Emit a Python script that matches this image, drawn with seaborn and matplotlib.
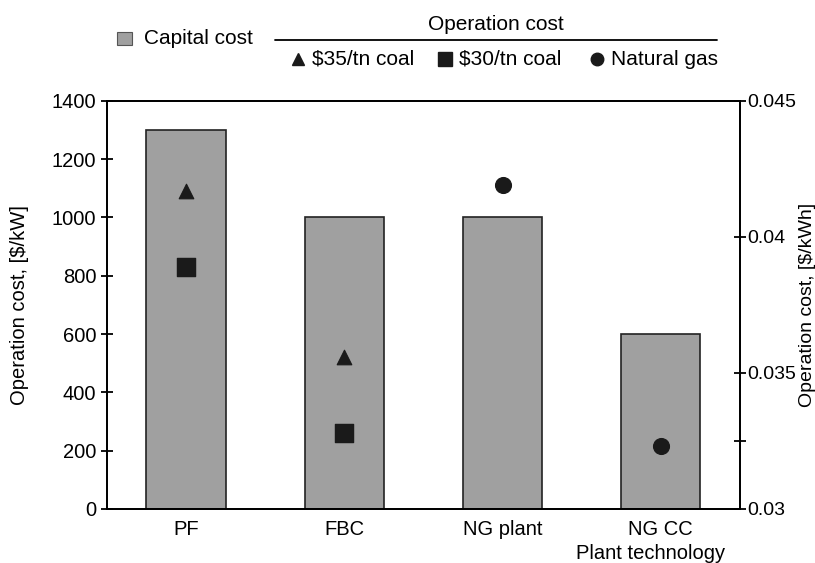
import matplotlib
matplotlib.use("Agg")
import matplotlib.pyplot as plt
from matplotlib.lines import Line2D
from matplotlib.patches import Rectangle
import seaborn as sns
import pandas as pd

# data
technologies = ["PF", "FBC", "NG plant", "NG CC"]
capital_cost = [1300, 1000, 1000, 600]          # left axis, $/kW

op_tech = ["PF", "PF", "FBC", "FBC", "NG plant", "NG CC"]
op_fuel = ["$35/tn coal", "$30/tn coal", "$35/tn coal", "$30/tn coal", "Natural gas", "Natural gas"]
op_cost = [0.0417, 0.0389, 0.0356, 0.0328, 0.0419, 0.0323]  # right axis, $/kWh

fuel_markers = {"$35/tn coal": "^", "$30/tn coal": "s", "Natural gas": "o"}
fuel_sizes = {"$35/tn coal": 110, "$30/tn coal": 170, "Natural gas": 130}

sns.set_theme(style="white")
plt.rcParams["font.family"] = ["Liberation Sans", "DejaVu Sans"]
plt.rcParams.update({"text.color": "black", "axes.labelcolor": "black",
                     "xtick.color": "black", "ytick.color": "black"})
FS = 14.5

bars = pd.DataFrame({"tech": technologies, "capital": capital_cost})
ops = pd.DataFrame({"tech": op_tech, "fuel": op_fuel, "cost": op_cost})
ops["pos"] = [technologies.index(t) for t in ops["tech"]]

fig = plt.figure(figsize=(8.15, 5.63), dpi=100)
ax = fig.add_axes([0.131, 0.096, 0.777, 0.725])

sns.barplot(data=bars, x="tech", y="capital", color="#a0a0a0", saturation=1,
            width=0.5, edgecolor="#222222", linewidth=1.2, ax=ax)
ax.set_xlim(-0.5, 3.5)
ax.set_ylim(0, 1400)
ax.set_yticks(range(0, 1401, 200))
ax.set_ylabel("Operation cost, [$/kW]", fontsize=FS, va="center")
ax.yaxis.set_label_coords(-0.138, 0.5)
ax.set_xlabel("")
ax.set_xticks(range(len(technologies)))
ax.set_xticklabels(technologies, fontsize=FS)
ax.tick_params(axis="x", length=0, pad=8)
ax.set_xticks([0.5, 1.5, 2.5], minor=True)
ax.tick_params(axis="x", which="minor", direction="inout", length=9, width=1.3, color="black")
ax.tick_params(axis="y", direction="inout", length=9, width=1.3, color="black", labelsize=FS, pad=3)

ax2 = ax.twinx()
for fuel in fuel_markers:
    sub = ops[ops["fuel"] == fuel]
    sns.scatterplot(data=sub, x="pos", y="cost", marker=fuel_markers[fuel],
                    s=fuel_sizes[fuel], color="#1a1a1a", edgecolor="#1a1a1a",
                    legend=False, ax=ax2)
ax2.set_ylim(0.03, 0.045)
ax2.set_yticks([0.03, 0.0325, 0.035, 0.04, 0.045])
ax2.set_yticklabels(["0.03", "", "0.035", "0.04", "0.045"])
ax2.tick_params(axis="y", direction="inout", length=9, width=1.3, color="black", labelsize=14, pad=1)
ax2.set_ylabel("Operation cost, [$/kWh]", fontsize=14, rotation=90, va="center")
ax2.yaxis.set_label_coords(1.106, 0.5)
ax2.set_xlabel("")
ax2.set_xlim(-0.5, 3.5)

for a in (ax, ax2):
    for s in a.spines.values():
        s.set_color("black")
        s.set_linewidth(1.3)

fig.text(0.798, 0.0175, "Plant technology", ha="center", va="center", fontsize=FS)

# custom legend on top
fig.add_artist(Rectangle((0.1435, 0.92), 0.0185, 0.024, transform=fig.transFigure,
                         facecolor="#a0a0a0", edgecolor="#555555", lw=0.8))
fig.text(0.177, 0.931, "Capital cost", ha="left", va="center", fontsize=15)
fig.text(0.609, 0.956, "Operation cost", ha="center", va="center", fontsize=15)
fig.add_artist(Line2D([0.337, 0.88], [0.929, 0.929], transform=fig.transFigure,
                      color="black", lw=1.3))
legend_x = {"$35/tn coal": 0.366, "$30/tn coal": 0.546, "Natural gas": 0.733}
for fuel, xm in legend_x.items():
    fig.add_artist(Line2D([xm], [0.895], transform=fig.transFigure, marker=fuel_markers[fuel],
                          markersize=9 if fuel != "$30/tn coal" else 10, color="#1a1a1a", linestyle=""))
    fig.text(xm + 0.017, 0.895, fuel, ha="left", va="center", fontsize=15)

plt.savefig("out.png", dpi=100)
